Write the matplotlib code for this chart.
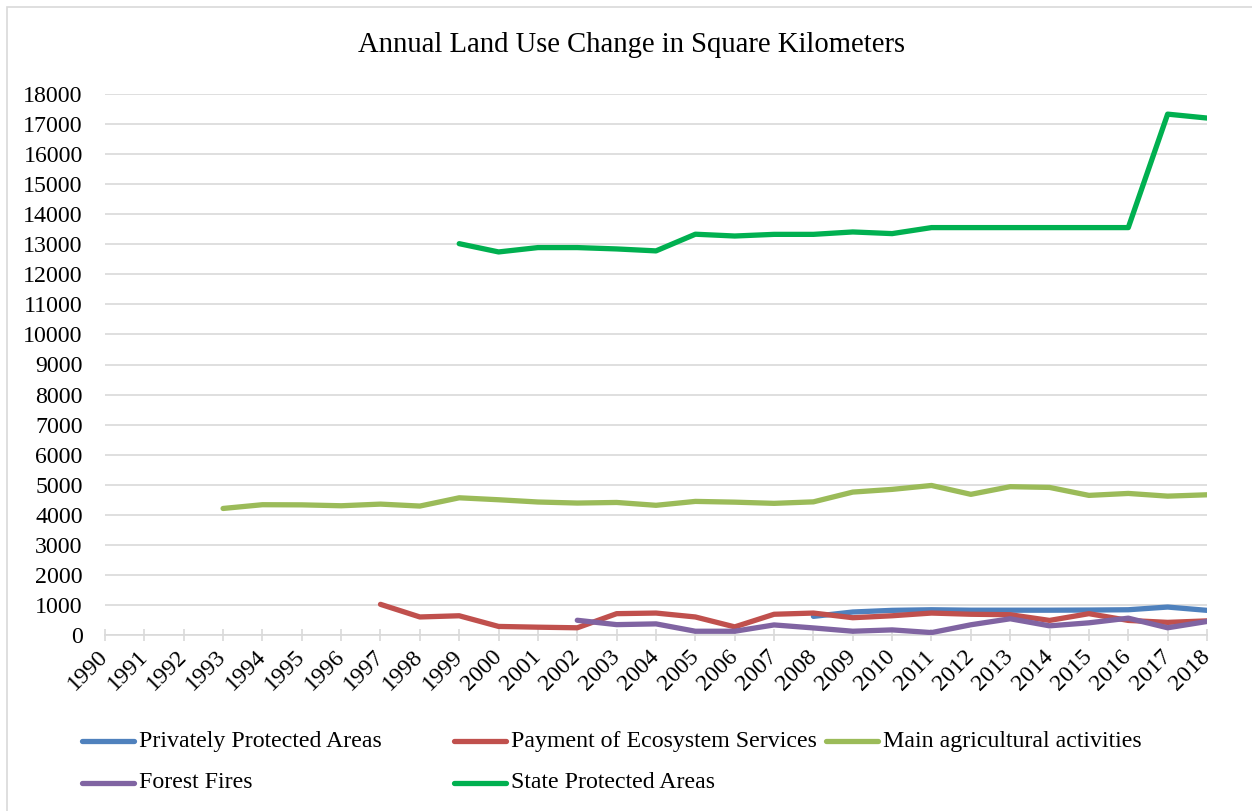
import numpy as np
import matplotlib
matplotlib.use("Agg")
import matplotlib.pyplot as plt
from matplotlib.lines import Line2D
from matplotlib.patches import Rectangle

plt.rcParams['font.family'] = ['Liberation Serif', 'DejaVu Serif']

# Years on the category axis
years = list(range(1990, 2019))

# Series values (km2)
private_years = list(range(2008, 2019))
private_vals = [620, 765, 820, 840, 825, 825, 825, 830, 840, 930, 820]

pes_years = list(range(1997, 2019))
pes_vals = [1020, 600, 640, 285, 260, 240, 710, 730, 600, 270, 690,
            730, 575, 640, 730, 690, 675, 485, 710, 485, 420, 470]

agri_years = list(range(1993, 2019))
agri_vals = [4210, 4335, 4330, 4300, 4355, 4290, 4565, 4500, 4425, 4390,
             4410, 4315, 4445, 4420, 4380, 4430, 4755, 4845, 4975, 4680,
             4935, 4910, 4645, 4710, 4620, 4665]

fire_years = list(range(2002, 2019))
fire_vals = [490, 345, 370, 125, 125, 335, 235, 125, 170, 80, 340,
             540, 305, 405, 560, 240, 450]

state_years = list(range(1999, 2019))
state_vals = [13020, 12745, 12890, 12890, 12845, 12780, 13335, 13275,
              13330, 13330, 13410, 13355, 13555, 13555, 13555, 13555,
              13555, 13555, 17330, 17200]

series = [
    ("Privately Protected Areas", private_years, private_vals, "#4F81BD"),
    ("Payment of Ecosystem Services", pes_years, pes_vals, "#C0504D"),
    ("Main agricultural activities", agri_years, agri_vals, "#9BBB59"),
    ("Forest Fires", fire_years, fire_vals, "#8064A2"),
    ("State Protected Areas", state_years, state_vals, "#00B050"),
]

W, H = 1252, 811
fig = plt.figure(figsize=(W / 100, H / 100), dpi=100)
ax = fig.add_axes([105 / W, 1 - 635 / H, (1207 - 105) / W, (635 - 94) / H])

grid_col = "#d9d9d9"
lw = 3.8
fs = 17.2

for name, xs, ys, col in series:
    ax.plot(xs, ys, color=col, lw=lw, solid_capstyle='round',
            solid_joinstyle='round', label=name, zorder=3)

ax.set_xlim(years[0], years[-1])
ax.set_ylim(0, 18000)
ax.set_yticks(np.arange(0, 18001, 1000))
ax.yaxis.grid(True, color=grid_col, lw=1.2)
ax.set_axisbelow(True)
ax.tick_params(axis='y', length=0, pad=16, labelsize=fs)

ax.set_xticks(years)
ax.set_xticklabels([str(y) for y in years], rotation=45, ha='right',
                   va='center', rotation_mode='anchor', fontsize=fs)
ax.tick_params(axis='x', direction='inout', length=9, width=1.2,
               color=grid_col, pad=9)

for s in ['top', 'right', 'left']:
    ax.spines[s].set_visible(False)
ax.spines['bottom'].set_color(grid_col)
ax.spines['bottom'].set_linewidth(1.2)

fig.text(631 / W, 1 - 45 / H, "Annual Land Use Change in Square Kilometers",
         ha='center', va='center', fontsize=20.6)

# chart area outline (left and top edges visible)
fig.add_artist(Rectangle((7 / W, -0.05), 1.2, 1 - 7 / H + 0.05,
                         transform=fig.transFigure, fill=False,
                         edgecolor=grid_col, lw=1.2))

# legend laid out like the Excel one
cols_x = [80, 452, 824]
rows_y = [741, 783]
slots = [(0, 0), (0, 1), (0, 2), (1, 0), (1, 1)]
for (name, xs, ys, col), (r, c) in zip(series, slots):
    x0 = cols_x[c]
    y0 = 1 - rows_y[r] / H
    fig.add_artist(Line2D([(x0 + 2) / W, (x0 + 54) / W], [y0, y0],
                          transform=fig.transFigure, color=col, lw=lw,
                          solid_capstyle='round'))
    fig.text((x0 + 59) / W, y0, name, ha='left', va='center', fontsize=fs)

fig.savefig("out.png", dpi=100)
